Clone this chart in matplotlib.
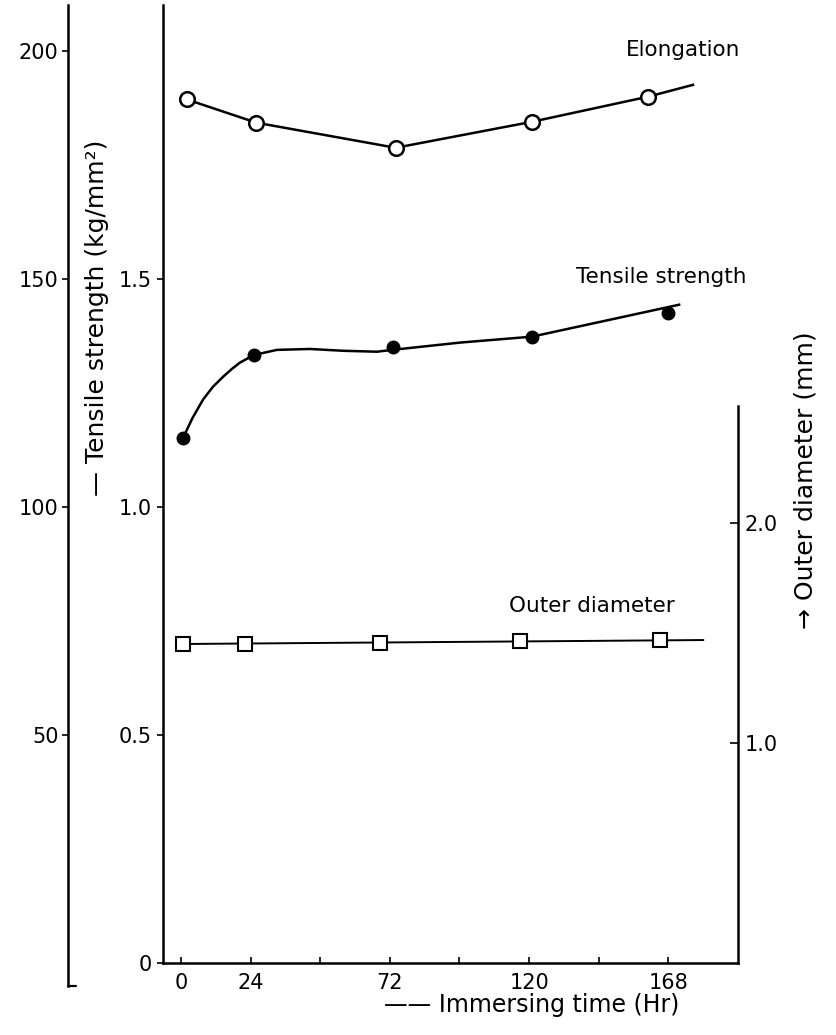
import numpy as np
import matplotlib
matplotlib.use('Agg')
import matplotlib.pyplot as plt
import matplotlib.transforms as mtransforms

# immersing time (Hr) and values
elong_hr = [2, 26, 74, 121, 161]
elong_val = [1.893, 1.842, 1.787, 1.844, 1.899]
elong_line_hr = [2, 26, 74, 121, 161, 176.5]
elong_line_val = [1.893, 1.842, 1.787, 1.844, 1.899, 1.925]

tens_hr = [0.7, 25, 73, 121, 168]
tens_val = [115.1, 133.3, 135.1, 137.3, 142.5]
# drawn curve through the tensile points
tens_curve_hr = [0.7, 4, 7.6, 11, 14.5, 17.5, 20.3, 25.2, 33.1, 44.5, 55.9, 67.6, 72.8, 96.2, 121, 171.7]
tens_curve_val = [115.1, 119.5, 123.5, 126.3, 128.5, 130.2, 131.6, 133.3, 134.4, 134.6, 134.2, 134.0, 134.4, 136.0, 137.3, 144.3]

od_hr = [0.7, 22, 68.6, 117, 165]
od_val = [1.450, 1.450, 1.455, 1.462, 1.466]
od_line_hr = [0.7, 180]
od_line_val = [1.450, 1.468]

W, H = 836, 1035
fig = plt.figure(figsize=(W / 100, H / 100), dpi=100)
plt.rcParams['font.family'] = ['DejaVu Sans']

ax = fig.add_axes([163 / W, 1 - 963 / H, (738 - 163) / W, (963 - 5) / H])
ax.set_xlim(-6.2, 192)
ax.set_ylim(0, 2.1)
ax.spines['top'].set_visible(False)
ax.spines['right'].set_visible(False)
ax.spines['left'].set_linewidth(1.8)
ax.spines['bottom'].set_linewidth(1.8)
ax.set_xticks([0, 24, 48, 72, 96, 120, 144, 168])
ax.set_xticklabels(['0', '24', '', '72', '', '120', '', '168'])
ax.tick_params(axis='x', direction='in', length=4, width=1.2, labelsize=15, pad=7)
ax.set_yticks([0, 0.5, 1.0, 1.5])
ax.set_yticklabels(['0', '0.5', '1.0', '1.5'])
ax.tick_params(axis='y', direction='out', length=4, width=1.2, labelsize=15, pad=4)

# tensile strength axis, far left
axl = ax.twinx()
axl.set_ylim(0, 210)
axl.yaxis.set_ticks_position('left')
axl.spines['left'].set_position(('axes', -0.165))
axl.spines['left'].set_bounds(-5, 210)
axl.spines['left'].set_linewidth(1.8)
for s in ['top', 'right', 'bottom']:
    axl.spines[s].set_visible(False)
axl.set_yticks([50, 100, 150, 200])
axl.tick_params(axis='y', direction='out', length=4, width=1.2, labelsize=15, pad=3)
# little hook at the foot of the far left axis
hook = mtransforms.blended_transform_factory(axl.transAxes, axl.transData)
axl.plot([-0.165, -0.152], [-5, -5], color='black', lw=1.6, transform=hook,
         clip_on=False, solid_capstyle='round')

# outer diameter axis, right
axr = ax.twinx()
axr.set_ylim(0, 958 / 220)
axr.spines['right'].set_bounds(0, 2.53)
axr.spines['right'].set_linewidth(1.8)
for s in ['top', 'left', 'bottom']:
    axr.spines[s].set_visible(False)
axr.set_yticks([1.0, 2.0])
axr.set_yticklabels(['1.0', '2.0'])
axr.tick_params(axis='y', direction='in', length=6, width=1.2, labelsize=15, pad=5)

# elongation
ax.plot(elong_line_hr, elong_line_val, color='black', lw=1.8, zorder=2)
ax.plot(elong_hr, elong_val, 'o', ms=10.5, mfc='white', mec='black', mew=1.8, zorder=3)

# tensile strength
axl.plot(tens_curve_hr, tens_curve_val, color='black', lw=1.8, solid_joinstyle='round')
axl.plot(tens_hr, tens_val, 'o', ms=9, color='black')

# outer diameter
axr.plot(od_line_hr, od_line_val, color='black', lw=1.4)
axr.plot(od_hr, od_val, 's', ms=10, mfc='white', mec='black', mew=1.5)

fig.text(683 / W, 1 - 50 / H, 'Elongation', fontsize=15.5, ha='center', va='center')
fig.text(661 / W, 1 - 277 / H, 'Tensile strength', fontsize=15.5, ha='center', va='center')
fig.text(592 / W, 1 - 606 / H, 'Outer diameter', fontsize=15.5, ha='center', va='center')

fig.text(97 / W, 1 - 318 / H, '— Tensile strength (kg/mm²)', fontsize=18,
         rotation=90, ha='center', va='center')
fig.text(806 / W, 1 - 480 / H, '→ Outer diameter (mm)', fontsize=18,
         rotation=90, ha='center', va='center')
fig.text(532 / W, 1 - 1005 / H, '—— Immersing time (Hr)', fontsize=17,
         ha='center', va='center')

fig.savefig('out.png', dpi=100)
